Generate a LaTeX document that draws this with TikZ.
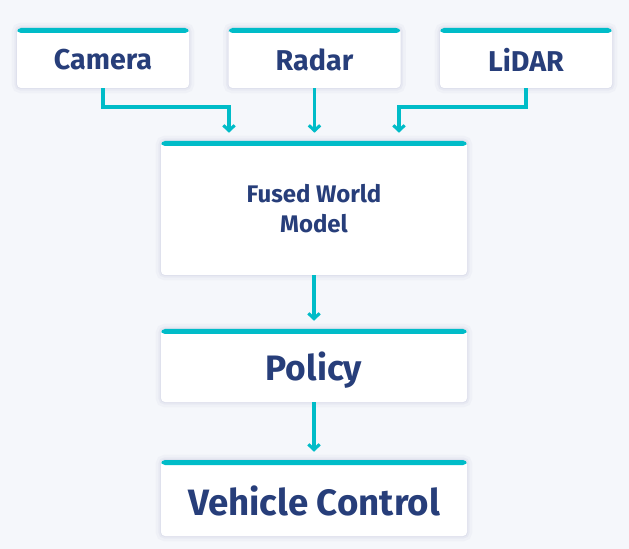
\documentclass[tikz,border=0pt]{standalone}
\usepackage{fontspec}
\setmainfont{Fira Sans}
\usetikzlibrary{arrows.meta,calc}
\definecolor{bg}{HTML}{F5F7FB}
\definecolor{tealc}{HTML}{00BCC8}
\definecolor{navy}{HTML}{273E7A}
\newcommand\lowerby[2]{\raisebox{-#1}[\height][\depth]{#2}}
\tikzset{
  box/.style={fill=white, rounded corners=3pt, draw=none, text=navy, font=\bfseries, align=center,
    preaction={draw=black!60!blue, draw opacity=0.025, line width=8pt},
    preaction={draw=black!60!blue, draw opacity=0.03, line width=4pt},
    preaction={draw=black!60!blue, draw opacity=0.03, line width=1.5pt},
    path picture={\fill[tealc] (path picture bounding box.north west) rectangle ([yshift=-3.75pt]path picture bounding box.north east);}},
  conn/.style={draw=tealc, line width=2.3pt, -{Straight Barb[length=4pt,width=8.5pt,line width=2.3pt]}}
}
\begin{document}
\begin{tikzpicture}[x=0.75pt,y=-0.75pt]
\fill[bg] (0,0) rectangle (629,549);
\useasboundingbox (0,0) rectangle (629,549);
\node[box, minimum width=129pt, minimum height=45pt, font=\bfseries\fontsize{21.5}{25}\selectfont] (cam) at (103,58) {\lowerby{1.5pt}{Camera}};
\node[box, minimum width=129pt, minimum height=45pt, font=\bfseries\fontsize{21.5}{25}\selectfont] (rad) at (314.5,58) {\lowerby{1.5pt}{Radar}};
\node[box, minimum width=129pt, minimum height=45pt, font=\bfseries\fontsize{21.5}{25}\selectfont] (lid) at (526,58) {\lowerby{1.5pt}{LiDAR}};
\node[box, minimum width=229.5pt, minimum height=100.5pt, font=\bfseries\fontsize{18}{22.5}\selectfont] (fus) at (314,208) {\lowerby{0.75pt}{Fused World}\\\lowerby{0.75pt}{Model}};
\node[box, minimum width=229.5pt, minimum height=54.75pt, font=\bfseries\fontsize{26.5}{30}\selectfont] (pol) at (314,365.5) {\lowerby{3.5pt}{Policy}};
\node[box, minimum width=229.5pt, minimum height=57pt, font=\bfseries\fontsize{27.5}{32}\selectfont] (veh) at (314,498) {\lowerby{2.25pt}{Vehicle Control}};
\coordinate (j1) at (229,107);
\coordinate (j2) at (399,107);
\draw[conn, shorten >=6pt] (cam.south) |- (j1) -- (j1 |- fus.north);
\draw[conn, shorten >=6pt] (rad.south) -- (rad.south |- fus.north);
\draw[conn, shorten >=6pt] (lid.south) |- (j2) -- (j2 |- fus.north);
\draw[conn, shorten >=6pt] (fus.south) -- (pol.north);
\draw[conn, shorten >=6pt] (pol.south) -- (veh.north);
\end{tikzpicture}
\end{document}
